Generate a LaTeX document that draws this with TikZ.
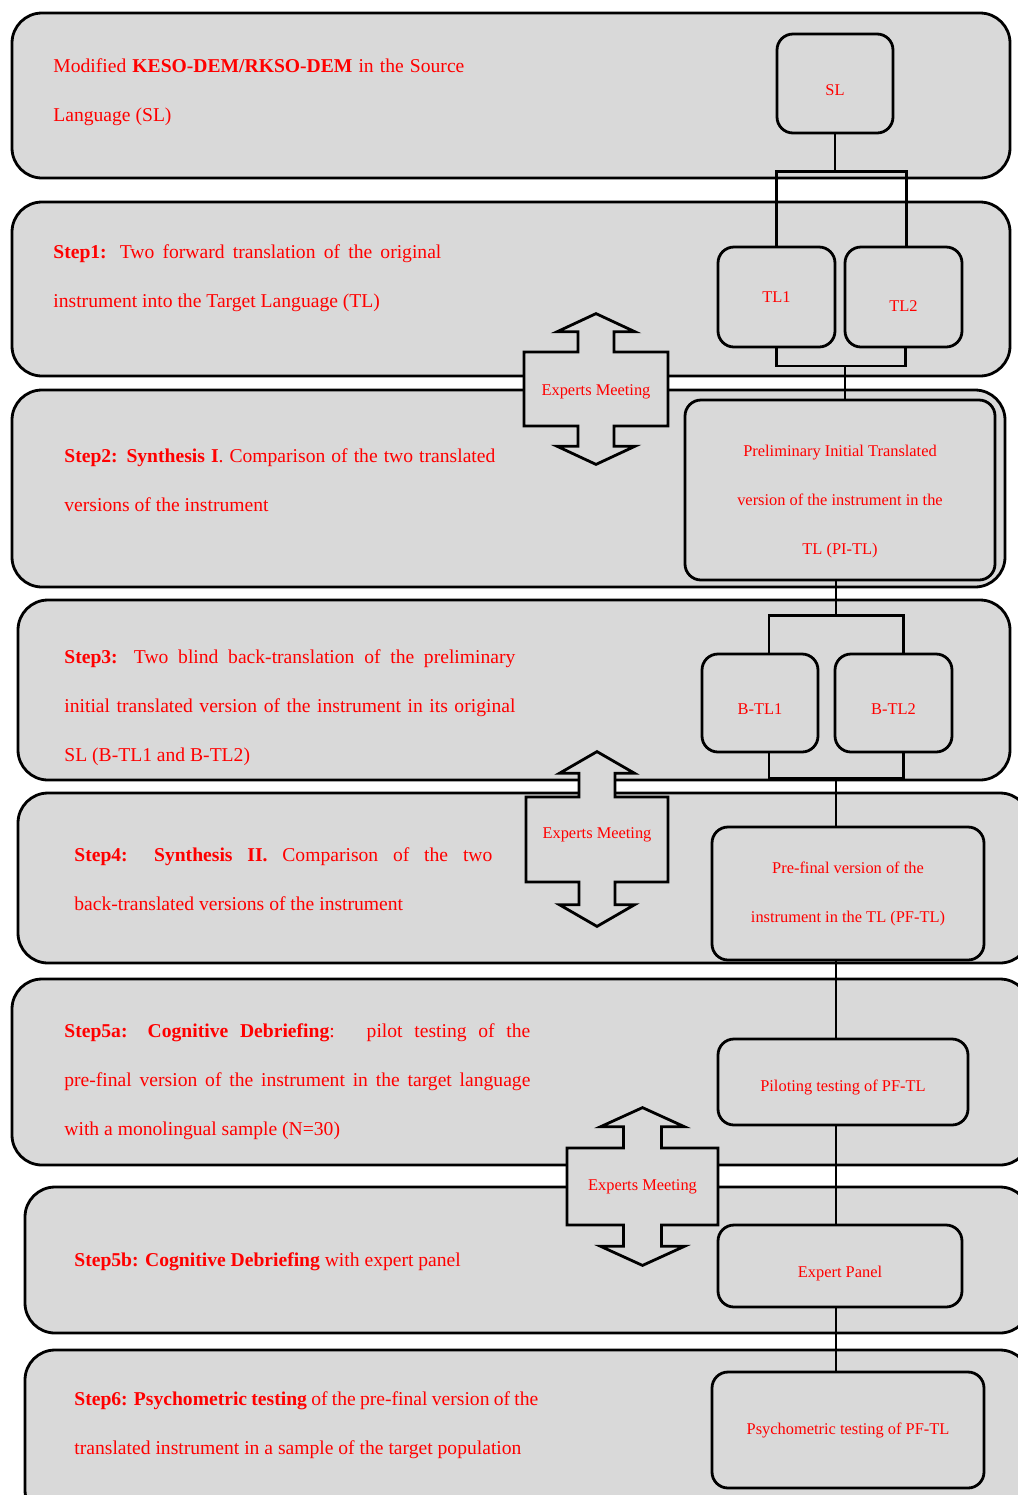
\documentclass[tikz,border=0pt]{standalone}
\usepackage{fontspec}
\setmainfont{Liberation Serif}
\usepackage{tikz}
\usetikzlibrary{shapes.arrows}
\usepackage{xcolor}
\definecolor{boxgray}{RGB}{217,217,217}
\definecolor{stepred}{RGB}{255,0,0}

\begin{document}
\begin{tikzpicture}[x=0.5pt, y=-0.5pt, line width=1.4pt,
            panel/.style = {draw, fill=boxgray,
            rounded corners=15pt, inner sep=0pt},
            stage/.style = {draw, fill=boxgray, rounded corners=8pt,
            inner sep=0pt, text=stepred, align=center,
            font=\fontsize{8.2}{24.5}\selectfont},
            steptext/.style = {anchor=west, inner sep=0pt, text=stepred,
            align=justify, font=\fontsize{9.8}{24.5}\selectfont},
            meeting/.style = {arrow box, draw, fill=boxgray, inner sep=0pt,
            text=stepred, font=\fontsize{8.2}{10}\selectfont,
            arrow box head indent=0pt}]
        \useasboundingbox (0,0) rectangle (1018,1495);

        % Step panels
        \node[panel, minimum width=499pt, minimum height=82.5pt] (p0) at (511,95.5) {};
        \node[panel, minimum width=499pt, minimum height=87pt] (p1) at (511,289) {};
        \node[panel, minimum width=496.5pt, minimum height=98.5pt] (p2) at (508.5,488.5) {};
        \node[panel, minimum width=496pt, minimum height=90pt] (p3) at (514,690) {};
        \node[panel, minimum width=506pt, minimum height=85pt] (p4) at (524,878) {};
        \node[panel, minimum width=509pt, minimum height=93pt] (p5) at (521,1072) {};
        \node[panel, minimum width=502.5pt, minimum height=73pt] (p6) at (527.5,1260) {};
        \node[panel, minimum width=502.5pt, minimum height=85pt] (p7) at (527.5,1435) {};

        % Step texts
        \node[steptext, text width=205.5pt] (t0) at (52,92.5)
            {Modified \textbf{KESO-DEM/RKSO-DEM} in the Source\linebreak Language (SL)};
        \node[steptext, text width=194pt] (t1) at (52,278.5)
            {\textbf{Step1:} Two forward translation of the original\linebreak instrument into the Target Language (TL)};
        \node[steptext, text width=215.5pt] (t2) at (63,480.5)
            {\textbf{Step2: Synthesis I}. Comparison of the two translated\linebreak versions of the instrument};
        \node[steptext, text width=225.5pt] (t3) at (63,707.5)
            {\textbf{Step3:} Two blind back-translation of the preliminary\linebreak initial translated version of the instrument in its original\linebreak SL (B-TL1 and B-TL2)};
        \node[steptext, text width=209pt] (t4) at (73,879.5)
            {\textbf{Step4: Synthesis II.} Comparison of the two\linebreak back-translated versions of the instrument};
        \node[steptext, text width=233pt] (t5) at (63,1082)
            {\textbf{Step5a: Cognitive Debriefing}: \ pilot testing of the\linebreak pre-final version of the instrument in the target language\linebreak with a monolingual sample (N=30)};
        \node[steptext, text width=240pt] (t6) at (73,1262)
            {\textbf{Step5b: Cognitive Debriefing} with expert panel};
        \node[steptext, text width=232pt] (t7) at (73,1425.5)
            {\textbf{Step6: Psychometric testing} of the pre-final version of the\linebreak translated instrument in a sample of the target population};

        % Versions of the instrument
        \node[stage, minimum width=58pt, minimum height=49.5pt] (SL) at (835,83.5) {\rule{0pt}{12.4pt}SL};
        \node[stage, minimum width=58.5pt, minimum height=50pt] (TL1) at (776.5,297) {TL1};
        \node[stage, minimum width=58.5pt, minimum height=50pt] (TL2) at (903.5,297) {\rule{0pt}{14.5pt}TL2};
        \node[stage, minimum width=155pt, minimum height=90pt] (PI) at (840,490)
            {\rule{0pt}{17pt}Preliminary Initial Translated\\version of the instrument in the\\TL (PI-TL)};
        \node[stage, minimum width=58pt, minimum height=49pt] (BTL1) at (760,703) {\rule{0pt}{11.5pt}B-TL1};
        \node[stage, minimum width=58.5pt, minimum height=49pt] (BTL2) at (893.5,703) {\rule{0pt}{11.5pt}B-TL2};
        \node[stage, minimum width=136pt, minimum height=66.5pt] (PF) at (848,893.5)
            {Pre-final version of the\\instrument in the TL (PF-TL)};
        \node[stage, minimum width=125pt, minimum height=43pt] (pilot) at (843,1082) {\rule{0pt}{11.5pt}Piloting testing of PF-TL};
        \node[stage, minimum width=122pt, minimum height=41pt] (panel) at (840,1266) {\rule{0pt}{13.5pt}Expert Panel};
        \node[stage, minimum width=136pt, minimum height=58pt] (psych) at (848,1430) {Psychometric testing of PF-TL};

        % Connectors
        \draw (SL.south) -- ++(0,37) coordinate (s1);
        \draw (TL1.north) |- (s1) -| ([xshift=1.5pt]TL2.north);
        \coordinate (j1) at (845,366);
        \draw (TL1.south) |- (j1) -| ([xshift=1pt]TL2.south);
        \draw (j1) -- (j1 |- PI.north);
        \coordinate (j3) at (836,778);
        \draw (PI.south -| j3) -- ++(0,34) coordinate (j2);
        \draw ([xshift=4.5pt]BTL1.north) |- (j2) -| ([xshift=5pt]BTL2.north);
        \draw ([xshift=4.5pt]BTL1.south) |- (j3) -| ([xshift=5pt]BTL2.south);
        \draw (j3) -- (j3 |- PF.north);
        \draw (PF.south -| j3) -- (pilot.north -| j3);
        \draw (pilot.south -| j3) -- (panel.north -| j3);
        \draw (panel.south -| j3) -- (psych.north -| j3);

        % Experts meetings
        \node[meeting, minimum width=72pt, minimum height=37pt,
            arrow box shaft width=18pt, arrow box head extend=10.5pt,
            arrow box tip angle=130,
            arrow box arrows={north:18.5pt, south:18.5pt}] (em1) at (596,389) {\rule{0pt}{8.5pt}Experts Meeting};
        \node[meeting, minimum width=71pt, minimum height=42.5pt,
            arrow box shaft width=18pt, arrow box head extend=9.75pt,
            arrow box tip angle=120,
            arrow box arrows={north:22pt, south:21.5pt}] (em2) at (597,839.5) {\raisebox{6pt}{Experts Meeting}};
        \node[meeting, minimum width=75.5pt, minimum height=38.5pt,
            arrow box shaft width=19pt, arrow box head extend=11.5pt,
            arrow box tip angle=131,
            arrow box arrows={north:19.5pt, south:19.5pt}] (em3) at (642.5,1186.5) {Experts Meeting};
    \end{tikzpicture}
\end{document}
